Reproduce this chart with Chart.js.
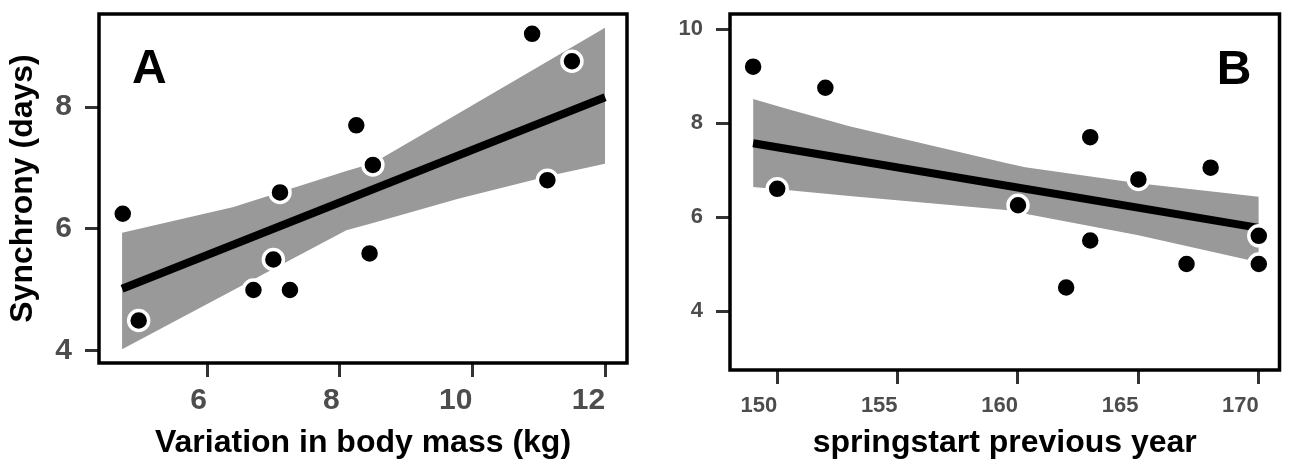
<!DOCTYPE html>
<html>
<head>
<meta charset="utf-8">
<script src="https://cdn.jsdelivr.net/npm/chart.js@4"></script>
<style>
html, body { margin: 0; padding: 0; background: #fff; }
#wrap { position: relative; width: 1293px; height: 463px; }
.panel { position: absolute; top: 0; height: 463px; }
#panelA { left: 0; width: 645px; }
#panelB { left: 645px; width: 648px; }
</style>
</head>
<body>
<div id="wrap">
  <div class="panel" id="panelA"><canvas id="chartA"></canvas></div>
  <div class="panel" id="panelB"><canvas id="chartB"></canvas></div>
</div>
<script>
// panel A: synchrony vs variation in body mass
const massVariation = [4.73, 4.97, 6.7, 7.0, 7.1, 7.25, 8.25, 8.5, 8.45, 10.9, 11.5, 11.13];
const synchronyA = [6.25, 4.5, 5.0, 5.5, 6.6, 5.0, 7.7, 7.05, 5.6, 9.2, 8.75, 6.8];
const fitAx = [4.72, 12.0];
const fitAy = [5.02, 8.16];
const bandAx = [4.72, 6.4, 8.1, 8.5, 9.8, 11.2, 12.0];
const bandAhi = [5.94, 6.36, 6.95, 7.08, 7.9, 8.79, 9.3];
const bandAlo = [4.03, 5.0, 5.98, 6.1, 6.5, 6.88, 7.07];
const xTicksA = [6, 8, 10, 12];
const yTicksA = [4, 6, 8];

// panel B: synchrony vs springstart previous year
const springStart = [149, 152, 150, 160, 163, 163, 162, 165, 167, 168, 170, 170];
const synchronyB = [9.2, 8.75, 6.6, 6.25, 7.7, 5.5, 4.5, 6.8, 5.0, 7.05, 5.6, 5.0];
const fitBx = [149, 170];
const fitBy = [7.57, 5.77];
const bandBx = [149, 150.5, 153, 159.5, 160.3, 165, 170];
const bandBhi = [8.51, 8.29, 7.93, 7.15, 7.06, 6.72, 6.43];
const bandBlo = [6.64, 6.57, 6.45, 6.15, 6.07, 5.61, 5.04];
const xTicksB = [150, 155, 160, 165, 170];
const yTicksB = [4, 6, 8, 10];

const FONT = '"Liberation Sans", Arial, Helvetica, sans-serif';

function toPoints(xs, ys) {
    return xs.map((x, i) => ({ x: x, y: ys[i] }));
}

const framePlugin = {
    id: 'frame',
    afterDatasetsDraw(chart, args, opts) {
        const ctx = chart.ctx;
        const a = chart.chartArea;
        ctx.save();
        ctx.strokeStyle = '#000';
        ctx.lineWidth = 3.5;
        ctx.strokeRect(a.left, a.top, a.right - a.left, a.bottom - a.top);
        ctx.font = 'bold 48px ' + FONT;
        ctx.fillStyle = '#000';
        ctx.textAlign = opts.align;
        ctx.textBaseline = 'alphabetic';
        const x = opts.align === 'left' ? a.left + opts.dx : a.right - opts.dx;
        ctx.fillText(opts.letter, x, a.top + opts.dy);
        ctx.restore();
    }
};

function axis(p) {
    return {
        type: 'linear',
        min: p.min,
        max: p.max,
        afterBuildTicks: s => { s.ticks = p.ticks.map(v => ({ value: v })); },
        afterFit: s => {
            p.fit(s);
            // labels near the ends should not push the plot area
            s.paddingTop = 0; s.paddingBottom = 0;
            s.paddingLeft = 0; s.paddingRight = 0;
        },
        grid: { drawOnChartArea: false, drawTicks: true, tickLength: 14, tickWidth: 3, tickColor: '#333' },
        border: { display: false },
        ticks: {
            font: { family: FONT, size: p.tickSize, weight: 'bold' },
            color: '#4d4d4d',
            padding: p.pad,
            align: p.align || 'center',
            maxRotation: 0,
            autoSkip: false
        },
        title: {
            display: !!p.title,
            text: p.title || '',
            font: { family: FONT, size: 32, weight: 'bold' },
            color: '#000',
            padding: p.titlePad || 0
        }
    };
}

function buildChart(id, p) {
    return new Chart(document.getElementById(id), {
        type: 'line',
        data: {
            datasets: [
                { data: toPoints(p.x, p.y), showLine: false, pointRadius: 10, pointBorderWidth: 3.5,
                  pointBackgroundColor: '#000', pointBorderColor: '#fff', borderColor: 'rgba(0,0,0,0)' },
                { data: toPoints(p.fitX, p.fitY), borderColor: '#000', borderWidth: 8, pointRadius: 0,
                  borderCapStyle: 'butt', fill: false },
                { data: toPoints(p.bandX, p.bandHi), borderColor: 'rgba(0,0,0,0)', borderWidth: 0, pointRadius: 0,
                  backgroundColor: '#999999', fill: '+1' },
                { data: toPoints(p.bandX, p.bandLo), borderColor: 'rgba(0,0,0,0)', borderWidth: 0, pointRadius: 0,
                  fill: false }
            ]
        },
        options: {
            responsive: true,
            maintainAspectRatio: false,
            animation: false,
            devicePixelRatio: 1,
            layout: { padding: { left: 0, top: 14, right: p.padRight, bottom: 0 } },
            plugins: {
                legend: { display: false },
                tooltip: { enabled: false },
                frame: p.letter
            },
            scales: { x: p.xAxis, y: p.yAxis }
        },
        plugins: [framePlugin]
    });
}

buildChart('chartA', {
    x: massVariation, y: synchronyA,
    fitX: fitAx, fitY: fitAy,
    bandX: bandAx, bandHi: bandAhi, bandLo: bandAlo,
    padRight: 18,
    letter: { letter: 'A', align: 'left', dx: 33, dy: 69 },
    xAxis: axis({ min: 4.372, max: 12.33, ticks: xTicksA, tickSize: 30, pad: 6, align: 'end',
                  fit: s => { s.height = 100; },
                  title: 'Variation in body mass (kg)', titlePad: { top: 0, bottom: 1 } }),
    yAxis: axis({ min: 3.803, max: 9.525, ticks: yTicksA, tickSize: 30, pad: 13,
                  fit: s => { s.width = 99; },
                  title: 'Synchrony (days)', titlePad: { top: 4, bottom: 0 } })
});

buildChart('chartB', {
    x: springStart, y: synchronyB,
    fitX: fitBx, fitY: fitBy,
    bandX: bandBx, bandHi: bandBhi, bandLo: bandBlo,
    padRight: 3,
    letter: { letter: 'B', align: 'right', dx: 28, dy: 70 },
    xAxis: axis({ min: 148.04, max: 170.86, ticks: xTicksB, tickSize: 22, pad: 9, align: 'end',
                  fit: s => { s.height = 93; },
                  title: 'springstart previous year', titlePad: { top: 0, bottom: 1 } }),
    yAxis: axis({ min: 2.745, max: 10.32, ticks: yTicksB, tickSize: 22, pad: 13,
                  fit: s => { s.width = 85; } })
});
</script>
</body>
</html>
